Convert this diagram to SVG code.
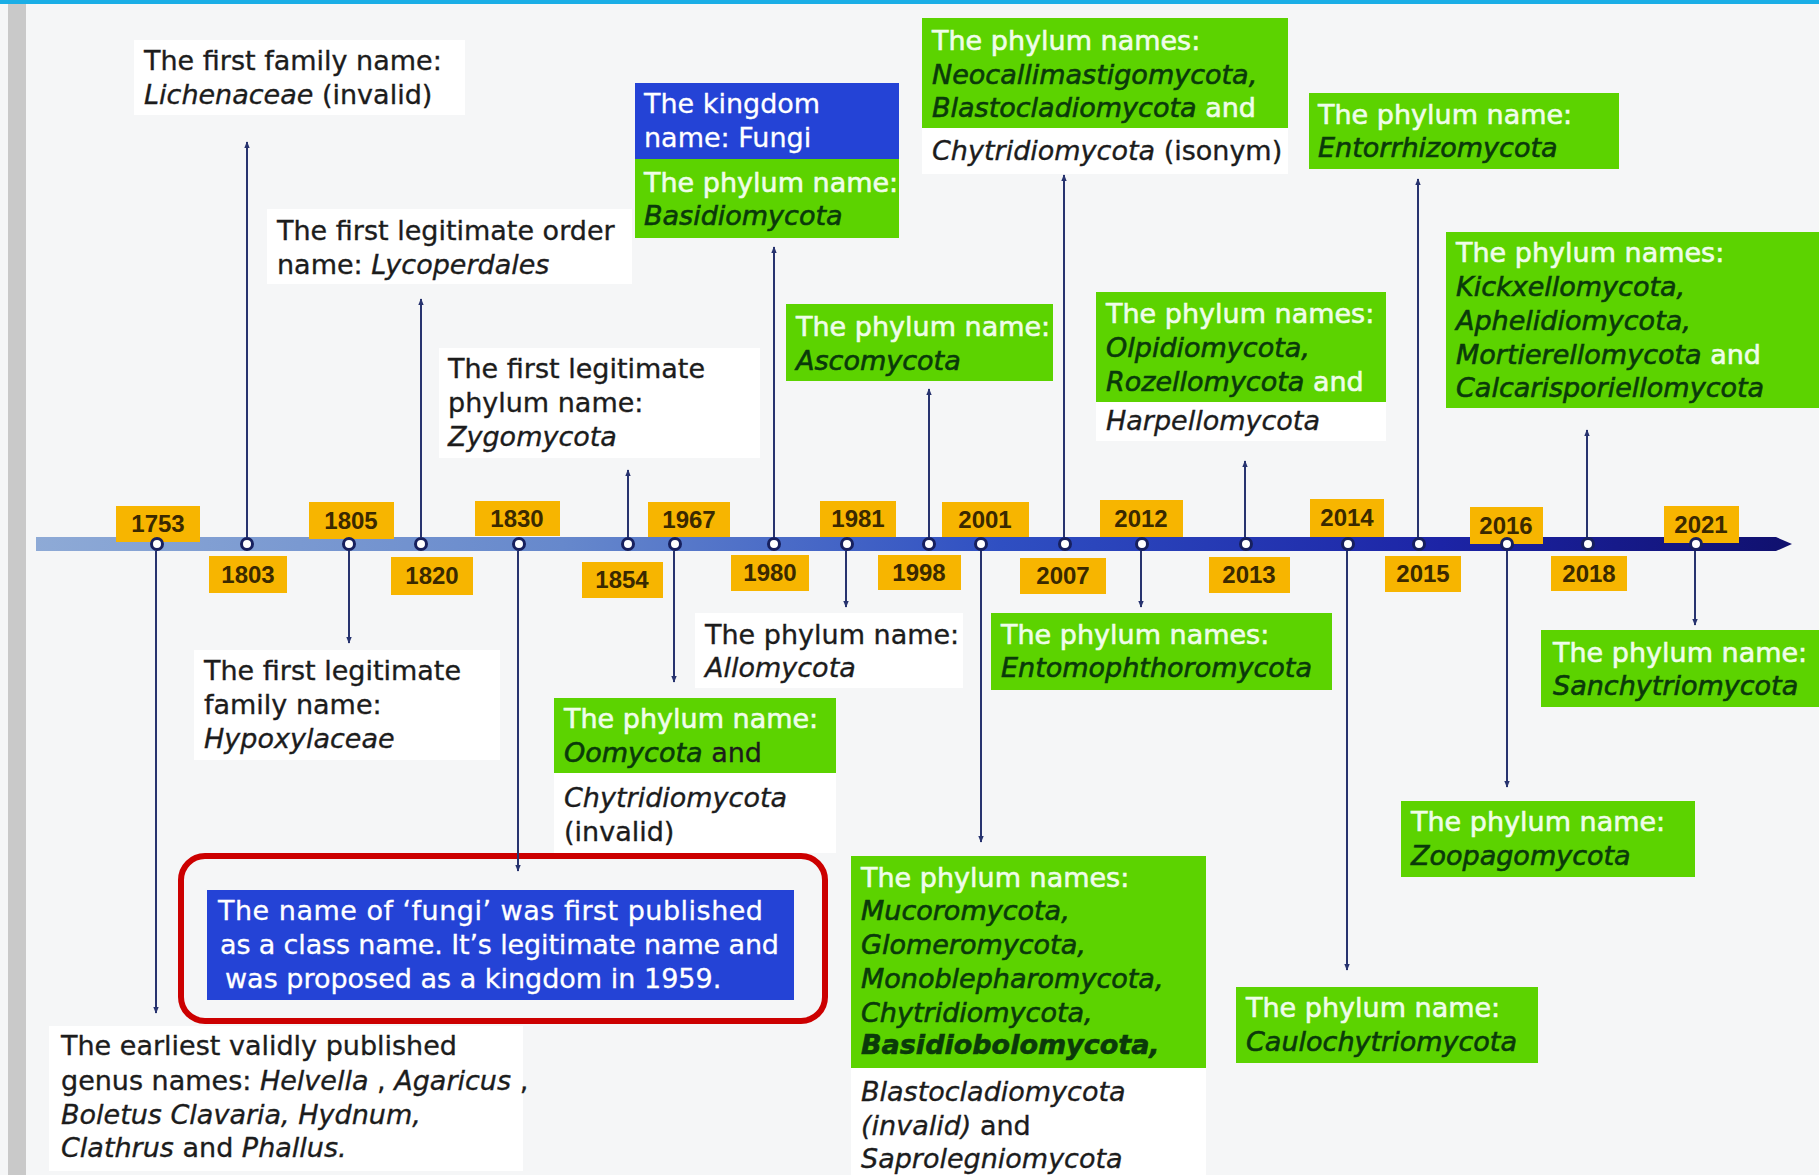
<svg xmlns="http://www.w3.org/2000/svg" width="1819" height="1175" viewBox="0 0 1819 1175">
  <defs>
    <linearGradient id="barGrad" x1="0" y1="0" x2="1" y2="0">
      <stop offset="0" stop-color="#8eaad6"/>
      <stop offset="0.3" stop-color="#6688cc"/>
      <stop offset="0.55" stop-color="#2f4fc2"/>
      <stop offset="0.8" stop-color="#1c24a6"/>
      <stop offset="1" stop-color="#10106e"/>
    </linearGradient>
    <marker id="ah" viewBox="0 0 10 10" refX="9" refY="5" markerWidth="7" markerHeight="7" markerUnits="userSpaceOnUse" orient="auto">
      <path d="M0,1 L10,5 L0,9 Z" fill="#27336f"/>
    </marker>
  </defs>
  <style>
    .t { font-family: "DejaVu Sans", "Noto Sans", sans-serif; font-size: 27px; fill: #1c1c1c; stroke: #1c1c1c; stroke-width: 0.35; }
    .i { font-style: italic; }
    .hd { fill: #effde9; stroke: #effde9; stroke-width: 0.6; font-style: normal; }
    .gn { fill: #0a3a0a; stroke: #0a3a0a; stroke-width: 0.6; font-style: italic; }
    .wt { fill: #ffffff; stroke: #ffffff; stroke-width: 0.3; }
    .wbox { fill: #ffffff; }
    .green { fill: #5cd300; }
    .blue { fill: #2443d6; }
    .yr rect { fill: #f7b500; }
    .yr text { font-family: "Liberation Sans", Arial, sans-serif; font-weight: bold; font-size: 24px; fill: #3a2900; text-anchor: middle; }
    .dot { fill: #ffffff; stroke: #17205e; stroke-width: 3; }
    .conn line { stroke: #27336f; stroke-width: 2; marker-end: url(#ah); }
  </style>

  <!-- page -->
  <rect x="0" y="0" width="1819" height="1175" fill="#f5f6f7"/>
  <rect x="0" y="0" width="1819" height="4" fill="#1aaee6"/>
  <rect x="8" y="4" width="18" height="1171" fill="#c9c9c9"/>

  <!-- event boxes above the axis -->
  <g id="e1803">
    <rect class="wbox" x="134" y="40" width="331" height="75"/>
    <text class="t" x="144" y="70">The first family name:</text>
    <text class="t" x="144" y="104"><tspan class="i">Lichenaceae</tspan> (invalid)</text>
  </g>
  <g id="e1820">
    <rect class="wbox" x="267" y="209" width="365" height="75"/>
    <text class="t" x="277" y="240">The first legitimate order</text>
    <text class="t" x="277" y="274">name: <tspan class="i">Lycoperdales</tspan></text>
  </g>
  <g id="e1854">
    <rect class="wbox" x="439" y="348" width="321" height="110"/>
    <text class="t" x="448" y="378">The first legitimate</text>
    <text class="t" x="448" y="412">phylum name:</text>
    <text class="t i" x="448" y="446">Zygomycota</text>
  </g>
  <g id="e1980">
    <rect class="blue" x="635" y="83" width="264" height="76"/>
    <rect class="green" x="635" y="159" width="264" height="79"/>
    <text class="t wt" x="644" y="113">The kingdom</text>
    <text class="t wt" x="644" y="147">name: Fungi</text>
    <text class="t hd" x="644" y="192">The phylum name:</text>
    <text class="t gn" x="644" y="225">Basidiomycota</text>
  </g>
  <g id="e1998">
    <rect class="green" x="786" y="304" width="267" height="77"/>
    <text class="t hd" x="796" y="336">The phylum name:</text>
    <text class="t gn" x="796" y="370">Ascomycota</text>
  </g>
  <g id="e2007">
    <rect class="green" x="922" y="18" width="366" height="110"/>
    <rect class="wbox" x="922" y="128" width="366" height="46"/>
    <text class="t hd" x="932" y="50">The phylum names:</text>
    <text class="t gn" x="932" y="84">Neocallimastigomycota,</text>
    <text class="t" x="932" y="117"><tspan class="gn">Blastocladiomycota</tspan><tspan class="hd"> and</tspan></text>
    <text class="t" x="932" y="160"><tspan class="i">Chytridiomycota</tspan> (isonym)</text>
  </g>
  <g id="e2013">
    <rect class="green" x="1096" y="292" width="290" height="110"/>
    <rect class="wbox" x="1096" y="402" width="290" height="39"/>
    <text class="t hd" x="1106" y="323">The phylum names:</text>
    <text class="t gn" x="1106" y="357">Olpidiomycota,</text>
    <text class="t" x="1106" y="391"><tspan class="gn">Rozellomycota</tspan><tspan class="hd"> and</tspan></text>
    <text class="t i" x="1106" y="430">Harpellomycota</text>
  </g>
  <g id="e2015">
    <rect class="green" x="1309" y="93" width="310" height="76"/>
    <text class="t hd" x="1318" y="124">The phylum name:</text>
    <text class="t gn" x="1318" y="157">Entorrhizomycota</text>
  </g>
  <g id="e2018">
    <rect class="green" x="1446" y="232" width="373" height="176"/>
    <text class="t hd" x="1456" y="262">The phylum names:</text>
    <text class="t gn" x="1456" y="296">Kickxellomycota,</text>
    <text class="t gn" x="1456" y="330">Aphelidiomycota,</text>
    <text class="t" x="1456" y="364"><tspan class="gn">Mortierellomycota</tspan><tspan class="hd"> and</tspan></text>
    <text class="t gn" x="1456" y="397">Calcarisporiellomycota</text>
  </g>

  <!-- event boxes below the axis -->
  <g id="e1753">
    <rect class="wbox" x="49" y="1026" width="474" height="145"/>
    <text class="t" x="61" y="1055">The earliest validly published</text>
    <text class="t" x="61" y="1090">genus names: <tspan class="i">Helvella</tspan> , <tspan class="i">Agaricus</tspan> ,</text>
    <text class="t i" x="61" y="1124">Boletus Clavaria, Hydnum,</text>
    <text class="t" x="61" y="1157"><tspan class="i">Clathrus</tspan> and <tspan class="i">Phallus.</tspan></text>
  </g>
  <g id="e1805">
    <rect class="wbox" x="194" y="650" width="306" height="110"/>
    <text class="t" x="204" y="680">The first legitimate</text>
    <text class="t" x="204" y="714">family name:</text>
    <text class="t i" x="204" y="748">Hypoxylaceae</text>
  </g>
  <g id="e1830">
    <rect x="181" y="856" width="644" height="165" rx="24" ry="24" fill="none" stroke="#cc0000" stroke-width="6"/>
    <rect class="blue" x="207" y="890" width="587" height="110"/>
    <text class="t wt" x="218" y="920" textLength="545" lengthAdjust="spacing">The name of ‘fungi’ was first published</text>
    <text class="t wt" x="220" y="954" textLength="559" lengthAdjust="spacing">as a class name. It’s legitimate name and</text>
    <text class="t wt" x="225" y="988">was proposed as a kingdom in 1959.</text>
  </g>
  <g id="e1967">
    <rect class="green" x="554" y="698" width="282" height="75"/>
    <rect class="wbox" x="554" y="773" width="282" height="80"/>
    <text class="t hd" x="564" y="728">The phylum name:</text>
    <text class="t" x="564" y="762"><tspan class="gn">Oomycota</tspan> and</text>
    <text class="t i" x="564" y="807">Chytridiomycota</text>
    <text class="t" x="564" y="841">(invalid)</text>
  </g>
  <g id="e1981">
    <rect class="wbox" x="695" y="613" width="268" height="75"/>
    <text class="t" x="705" y="644">The phylum name:</text>
    <text class="t i" x="705" y="677">Allomycota</text>
  </g>
  <g id="e2001">
    <rect class="green" x="851" y="856" width="355" height="212"/>
    <rect class="wbox" x="851" y="1068" width="355" height="107"/>
    <text class="t hd" x="861" y="887">The phylum names:</text>
    <text class="t gn" x="861" y="920">Mucoromycota,</text>
    <text class="t gn" x="861" y="954">Glomeromycota,</text>
    <text class="t gn" x="861" y="988">Monoblepharomycota,</text>
    <text class="t gn" x="861" y="1022">Chytridiomycota,</text>
    <text class="t gn" x="861" y="1054" font-size="22" font-weight="bold" stroke-width="0">Basidiobolomycota,</text>
    <text class="t i" x="861" y="1101">Blastocladiomycota</text>
    <text class="t" x="861" y="1135"><tspan class="i">(invalid)</tspan> and</text>
    <text class="t i" x="861" y="1168">Saprolegniomycota</text>
  </g>
  <g id="e2012">
    <rect class="green" x="991" y="613" width="341" height="77"/>
    <text class="t hd" x="1001" y="644">The phylum names:</text>
    <text class="t gn" x="1001" y="677">Entomophthoromycota</text>
  </g>
  <g id="e2014">
    <rect class="green" x="1236" y="987" width="302" height="76"/>
    <text class="t hd" x="1246" y="1017">The phylum name:</text>
    <text class="t gn" x="1246" y="1051">Caulochytriomycota</text>
  </g>
  <g id="e2016">
    <rect class="green" x="1401" y="801" width="294" height="76"/>
    <text class="t hd" x="1411" y="831">The phylum name:</text>
    <text class="t gn" x="1411" y="865">Zoopagomycota</text>
  </g>
  <g id="e2021">
    <rect class="green" x="1541" y="630" width="278" height="77"/>
    <text class="t hd" x="1553" y="662">The phylum name:</text>
    <text class="t gn" x="1553" y="695">Sanchytriomycota</text>
  </g>

  <!-- connectors from the axis to the event boxes -->
  <g id="connectors" class="conn">
    <line x1="247" y1="540" x2="247" y2="142"/>
    <line x1="421" y1="540" x2="421" y2="299"/>
    <line x1="628" y1="540" x2="628" y2="470"/>
    <line x1="774" y1="540" x2="774" y2="247"/>
    <line x1="929" y1="540" x2="929" y2="389"/>
    <line x1="1064" y1="540" x2="1064" y2="175"/>
    <line x1="1245" y1="540" x2="1245" y2="461"/>
    <line x1="1418" y1="540" x2="1418" y2="179"/>
    <line x1="1587" y1="540" x2="1587" y2="430"/>
    <line x1="156" y1="548" x2="156" y2="1013"/>
    <line x1="349" y1="548" x2="349" y2="643"/>
    <line x1="518" y1="548" x2="518" y2="871"/>
    <line x1="674" y1="548" x2="674" y2="682"/>
    <line x1="846" y1="548" x2="846" y2="607"/>
    <line x1="981" y1="548" x2="981" y2="842"/>
    <line x1="1141" y1="548" x2="1141" y2="607"/>
    <line x1="1347" y1="548" x2="1347" y2="970"/>
    <line x1="1507" y1="548" x2="1507" y2="787"/>
    <line x1="1695" y1="548" x2="1695" y2="625"/>
  </g>

  <!-- time axis -->
  <g id="axis">
    <path d="M36,537 H1776 L1792,544 L1776,551 H36 Z" fill="url(#barGrad)"/>
  </g>

  <!-- year labels -->
  <g id="years" class="yr">
    <g id="y1753"><rect x="116" y="506" width="84" height="36"/><text x="158" y="532">1753</text></g>
    <g id="y1803"><rect x="209" y="556" width="78" height="37"/><text x="248" y="583">1803</text></g>
    <g id="y1805"><rect x="309" y="502" width="85" height="37"/><text x="351" y="529">1805</text></g>
    <g id="y1820"><rect x="391" y="557" width="82" height="38"/><text x="432" y="584">1820</text></g>
    <g id="y1830"><rect x="475" y="501" width="85" height="35"/><text x="517" y="527">1830</text></g>
    <g id="y1854"><rect x="582" y="562" width="81" height="36"/><text x="622" y="588">1854</text></g>
    <g id="y1967"><rect x="648" y="502" width="82" height="35"/><text x="689" y="528">1967</text></g>
    <g id="y1980"><rect x="731" y="555" width="78" height="36"/><text x="770" y="581">1980</text></g>
    <g id="y1981"><rect x="820" y="501" width="76" height="36"/><text x="858" y="527">1981</text></g>
    <g id="y1998"><rect x="878" y="555" width="83" height="35"/><text x="919" y="581">1998</text></g>
    <g id="y2001"><rect x="942" y="502" width="87" height="35"/><text x="985" y="528">2001</text></g>
    <g id="y2007"><rect x="1020" y="558" width="86" height="36"/><text x="1063" y="584">2007</text></g>
    <g id="y2012"><rect x="1100" y="500" width="83" height="37"/><text x="1141" y="527">2012</text></g>
    <g id="y2013"><rect x="1209" y="557" width="81" height="36"/><text x="1249" y="583">2013</text></g>
    <g id="y2014"><rect x="1310" y="499" width="74" height="38"/><text x="1347" y="526">2014</text></g>
    <g id="y2015"><rect x="1385" y="556" width="76" height="36"/><text x="1423" y="582">2015</text></g>
    <g id="y2016"><rect x="1470" y="507" width="73" height="37"/><text x="1506" y="534">2016</text></g>
    <g id="y2018"><rect x="1551" y="556" width="76" height="35"/><text x="1589" y="582">2018</text></g>
    <g id="y2021"><rect x="1664" y="506" width="75" height="37"/><text x="1701" y="533">2021</text></g>
  </g>

  <!-- axis points -->
  <g id="points">
    <circle class="dot" cx="157" cy="544" r="5.5"/>
    <circle class="dot" cx="247" cy="544" r="5.5"/>
    <circle class="dot" cx="349" cy="544" r="5.5"/>
    <circle class="dot" cx="421" cy="544" r="5.5"/>
    <circle class="dot" cx="519" cy="544" r="5.5"/>
    <circle class="dot" cx="628" cy="544" r="5.5"/>
    <circle class="dot" cx="675" cy="544" r="5.5"/>
    <circle class="dot" cx="774" cy="544" r="5.5"/>
    <circle class="dot" cx="847" cy="544" r="5.5"/>
    <circle class="dot" cx="929" cy="544" r="5.5"/>
    <circle class="dot" cx="981" cy="544" r="5.5"/>
    <circle class="dot" cx="1065" cy="544" r="5.5"/>
    <circle class="dot" cx="1142" cy="544" r="5.5"/>
    <circle class="dot" cx="1246" cy="544" r="5.5"/>
    <circle class="dot" cx="1348" cy="544" r="5.5"/>
    <circle class="dot" cx="1419" cy="544" r="5.5"/>
    <circle class="dot" cx="1507" cy="544" r="5.5"/>
    <circle class="dot" cx="1588" cy="544" r="5.5"/>
    <circle class="dot" cx="1696" cy="544" r="5.5"/>
  </g>
</svg>
